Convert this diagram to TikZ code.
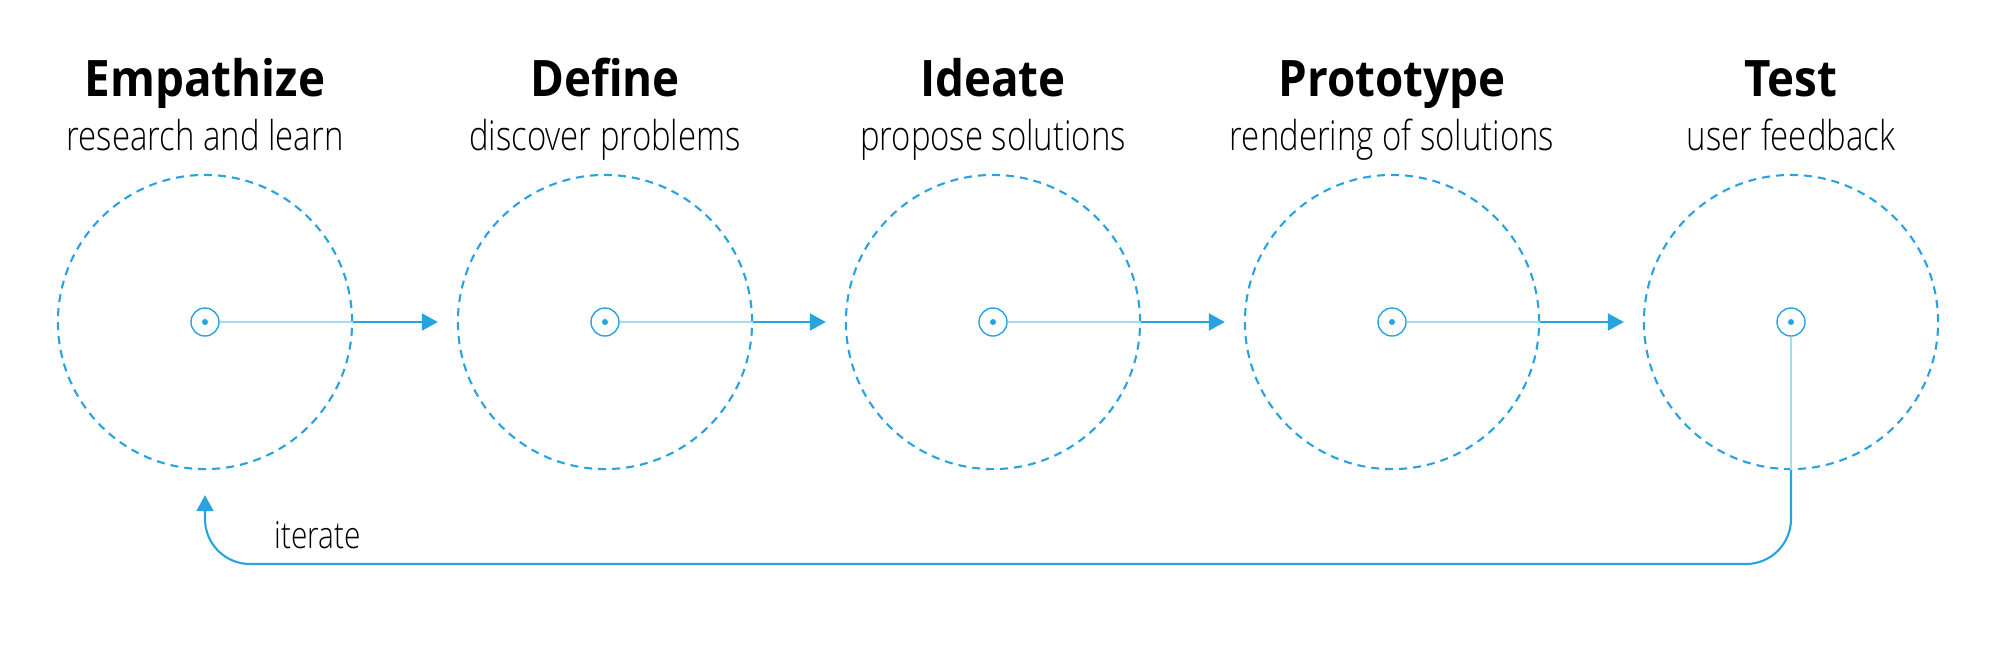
\documentclass[tikz,border=0pt]{standalone}
\usepackage{fontspec}
\setmainfont{Open Sans Light}[FakeStretch=0.8]
\newfontfamily\headfont{Open Sans}[FakeStretch=0.91]
\usetikzlibrary{arrows.meta}

\definecolor{flowblue}{RGB}{41,163,224}
\definecolor{paleblue}{RGB}{166,217,242}

\tikzstyle{ring} = [circle, draw=flowblue, line width=0.6pt, dash pattern=on 0.8mm off 0.6mm, minimum size=2.94cm, inner sep=0pt]
\tikzstyle{hub} = [circle, draw=flowblue, line width=0.4pt, minimum size=0.28cm, inner sep=0pt,
    path picture={\fill[flowblue] (path picture bounding box.center) circle (0.03cm);}]
\tikzstyle{title} = [anchor=base, font=\headfont\bfseries\fontsize{14.3}{16}\selectfont]
\tikzstyle{sub} = [anchor=base, font=\fontsize{11.7}{14}\selectfont]
\tikzstyle{faint} = [draw=paleblue, line width=0.6pt]
\tikzstyle{flow} = [draw=flowblue, line width=0.6pt, -{Triangle[length=0.16cm, width=0.17cm]}]

\begin{document}
\begin{tikzpicture}[x=0.01cm, y=-0.01cm]
\useasboundingbox (0,0) rectangle (2000,650);

% stages
\node[ring] (ring1) at (205,322) {};
\node[ring] (ring2) at (605,322) {};
\node[ring] (ring3) at (993,322) {};
\node[ring] (ring4) at (1392,322) {};
\node[ring] (ring5) at (1791,322) {};

\node[hub] (hub1) at (ring1.center) {};
\node[hub] (hub2) at (ring2.center) {};
\node[hub] (hub3) at (ring3.center) {};
\node[hub] (hub4) at (ring4.center) {};
\node[hub] (hub5) at (ring5.center) {};

\node[title] (empathize) at (205,96) {Empathize};
\node[title] (define) at (605,96) {Define};
\node[title] (ideate) at (993,96) {Ideate};
\node[title] (prototype) at (1392,96) {Prototype};
\node[title] (test) at (1791,96) {Test};

\node[sub] (research) at (205,150) {research and learn};
\node[sub] (discover) at (605,150) {discover problems};
\node[sub] (propose) at (993,150) {propose solutions};
\node[sub] (rendering) at (1392,150) {rendering of solutions};
\node[sub] (feedback) at (1791,150) {user feedback};

% forward arrows
\draw[faint] (hub1) -- (ring1.east);
\draw[flow, shorten >=0.19cm] (ring1.east) -- (ring2.west);
\draw[faint] (hub2) -- (ring2.east);
\draw[flow, shorten >=0.19cm] (ring2.east) -- (ring3.west);
\draw[faint] (hub3) -- (ring3.east);
\draw[flow, shorten >=0.19cm] (ring3.east) -- (ring4.west);
\draw[faint] (hub4) -- (ring4.east);
\draw[flow, shorten >=0.19cm] (ring4.east) -- (ring5.west);

% loop back
\coordinate (back) at (205,564);
\draw[faint] (hub5) -- (ring5.south);
\draw[flow, rounded corners=0.45cm, shorten >=0.25cm] (ring5.south) |- (back) -- (ring1.south);
\node[sub, anchor=base west, font=\fontsize{10.6}{13}\selectfont] (iterate) at (262,548) {iterate};
\end{tikzpicture}
\end{document}
